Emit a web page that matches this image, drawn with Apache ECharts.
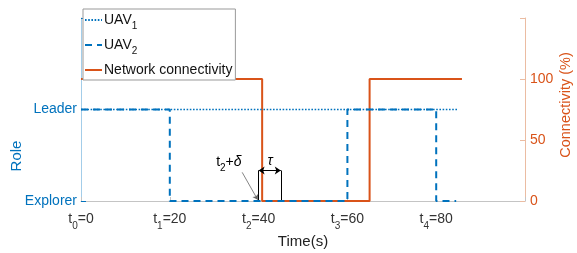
<!DOCTYPE html>
<html>
<head>
<meta charset="utf-8">
<script src="https://cdn.jsdelivr.net/npm/echarts@6/dist/echarts.min.js"></script>
<style>
  html, body { margin: 0; padding: 0; background: #fff; }
  #main { width: 577px; height: 253px; }
</style>
</head>
<body>
<div id="main"></div>
<script>
// data
var timeTicks = [0, 20, 40, 60, 80];
var roleLabels = ["Explorer", "Leader"];
var uav1Time = [0, 84.7];
var uav1Role = [1, 1];
var uav2Time = [0, 20, 60, 80, 84.5];
var uav2Role = [1, 0, 1, 0, 0];
var connTime = [0, 40.8, 65, 85.8];
var connValue = [100, 0, 100, 100];
// annotation: t2+delta and tau
var tauStart = 40, tauEnd = 45, tauLevel = 25;

var blue = "#0072BD";
var orange = "#D95319";
var font = "Liberation Sans, Arial, sans-serif";

function pairs(xs, ys) {
  return xs.map(function (x, i) { return [x, ys[i]]; });
}

var chartDom = document.getElementById("main");
var myChart = echarts.init(chartDom);
var option;

option = {
  animation: false,
  textStyle: { fontFamily: font },
  grid: { left: 81, right: 52, top: 18, bottom: 52 },
  legend: {
    orient: "vertical",
    left: 83,
    top: 9,
    itemWidth: 17,
    itemHeight: 10,
    itemGap: 7,
    padding: [4, 3, 3, 1],
    backgroundColor: "#fff",
    borderColor: "#999",
    borderWidth: 1,
    borderRadius: 0,
    itemStyle: { opacity: 0 },
    data: ["UAV1", "UAV2", "Network connectivity"],
    formatter: function (n) {
      return n.replace(/UAV(\d)/, "UAV{s|$1}");
    },
    textStyle: {
      fontSize: 14,
      color: "#111",
      padding: [0, 0, 0, -3],
      rich: { s: { fontSize: 10, padding: [12, 0, 0, 0] } }
    }
  },
  xAxis: {
    type: "value",
    min: 0,
    max: 100,
    interval: 20,
    splitLine: { show: false },
    axisLine: { lineStyle: { color: "#c4c4c4" } },
    axisTick: { inside: true, length: 4, lineStyle: { color: "#c4c4c4" } },
    axisLabel: {
      color: "#333",
      fontSize: 14,
      margin: 7,
      formatter: function (v) {
        var i = timeTicks.indexOf(v);
        return i < 0 ? "" : "t{s|" + i + "}=" + v;
      },
      rich: { s: { fontSize: 10, padding: [13, 0, 0, 0] } }
    }
  },
  yAxis: [
    {
      type: "value",
      min: 0,
      max: 2,
      interval: 1,
      splitLine: { show: false },
      axisLine: { show: true, lineStyle: { color: "#a3cde9" } },
      axisTick: { show: true, inside: true, length: 5, lineStyle: { color: blue } },
      axisLabel: {
        color: blue,
        fontSize: 14,
        margin: 4,
        formatter: function (v) { return roleLabels[v] || ""; }
      }
    },
    {
      type: "value",
      min: 0,
      max: 150,
      interval: 50,
      splitLine: { show: false },
      axisLine: { show: true, lineStyle: { color: "#ebbca2" } },
      axisTick: { show: true, inside: true, length: 5, lineStyle: { color: "#ebbca2" } },
      axisLabel: {
        color: orange,
        fontSize: 14,
        margin: 5,
        formatter: function (v) { return v === 150 ? "" : String(v); }
      }
    }
  ],
  graphic: [
    { type: "text", x: 17, y: 156, rotation: Math.PI / 2,
      style: { text: "Role", fill: blue, font: "15px " + font, align: "center", verticalAlign: "middle" } },
    { type: "text", x: 566, y: 105, rotation: Math.PI / 2,
      style: { text: "Connectivity (%)", fill: orange, font: "14.5px " + font, align: "center", verticalAlign: "middle" } },
    { type: "text", x: 303, y: 242,
      style: { text: "Time(s)", fill: "#222", font: "15px " + font, align: "center", verticalAlign: "middle" } }
  ],
  series: [
    {
      name: "Network connectivity",
      type: "line",
      yAxisIndex: 1,
      step: "end",
      symbol: "none",
      data: pairs(connTime, connValue),
      lineStyle: { color: orange, width: 2 },
      itemStyle: { color: orange },
      z: 3,
      markLine: {
        silent: true,
        symbol: "none",
        label: { show: false },
        lineStyle: { color: "#000", width: 1, type: "solid" },
        data: [
          [{ coord: [tauStart, 0] }, { coord: [tauStart, tauLevel] }],
          [{ coord: [tauEnd, 0] }, { coord: [tauEnd, tauLevel] }],
          [{ coord: [tauStart, tauLevel], symbol: "arrow", symbolSize: 6 },
           { coord: [tauEnd, tauLevel], symbol: "arrow", symbolSize: 6 }],
          [{ coord: [36.3, 23.5], lineStyle: { color: "#666", width: 0.8 } },
           { coord: [39.8, 1], symbol: "arrow", symbolSize: 5 }]
        ]
      },
      markPoint: {
        silent: true,
        symbol: "circle",
        symbolSize: 0,
        data: [
          { coord: [33.3, 31.5], label: { show: true, position: "inside", color: "#000", fontSize: 14,
              formatter: "t{s|2}+{i|δ}",
              rich: { s: { fontSize: 10, padding: [12, 0, 0, 0] }, i: { fontStyle: "italic", fontSize: 14 } } } },
          { coord: [42.6, 32.5], label: { show: true, position: "inside", color: "#000", fontSize: 14,
              fontStyle: "italic", formatter: "τ" } }
        ]
      }
    },
    {
      name: "UAV1",
      type: "line",
      step: "end",
      symbol: "none",
      data: pairs(uav1Time, uav1Role),
      lineStyle: { color: blue, width: 1.6, type: [1.6, 1.6] },
      itemStyle: { color: blue },
      z: 4
    },
    {
      name: "UAV2",
      type: "line",
      step: "end",
      symbol: "none",
      data: pairs(uav2Time, uav2Role),
      lineStyle: { color: blue, width: 2, type: [7, 5] },
      itemStyle: { color: blue },
      z: 5
    }
  ]
};

option && myChart.setOption(option);
</script>
</body>
</html>
